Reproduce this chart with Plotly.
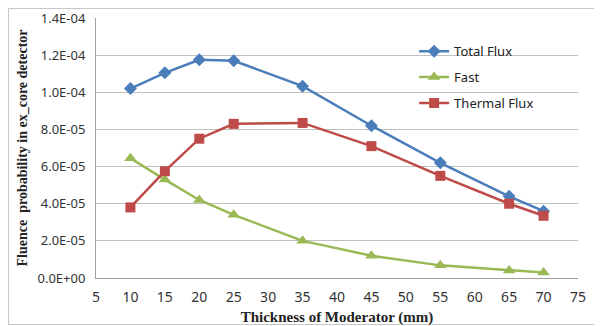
import plotly.graph_objects as go

thickness = [10, 15, 20, 25, 35, 45, 55, 65, 70]
total_flux = [1.02e-4, 1.105e-4, 1.175e-4, 1.17e-4, 1.033e-4, 8.2e-5, 6.2e-5, 4.4e-5, 3.6e-5]
fast = [6.45e-5, 5.3e-5, 4.2e-5, 3.4e-5, 2.0e-5, 1.2e-5, 6.8e-6, 4.0e-6, 3.0e-6]
thermal_flux = [3.8e-5, 5.75e-5, 7.5e-5, 8.3e-5, 8.35e-5, 7.1e-5, 5.5e-5, 4.0e-5, 3.35e-5]

y_tick_vals = [0, 2e-5, 4e-5, 6e-5, 8e-5, 1.0e-4, 1.2e-4, 1.4e-4]
y_tick_text = ["0.0E+00", "2.0E-05", "4.0E-05", "6.0E-05", "8.0E-05", "1.0E-04", "1.2E-04", "1.4E-04"]
x_tick_vals = [5, 10, 15, 20, 25, 30, 35, 40, 45, 50, 55, 60, 65, 70, 75]

fig = go.Figure()
fig.add_trace(go.Scatter(x=thickness, y=total_flux, name="Total Flux", mode="lines+markers",
                         legendgroup="a",
                         line=dict(color="#4A7EBB", width=2.5),
                         marker=dict(symbol="diamond", size=10, color="#4A7EBB")))
fig.add_trace(go.Scatter(x=thickness, y=fast, name="Fast", mode="lines+markers",
                         legendgroup="b",
                         line=dict(color="#98B954", width=2.5),
                         marker=dict(symbol="triangle-up", size=11, color="#98B954")))
fig.add_trace(go.Scatter(x=thickness, y=thermal_flux, name="Thermal Flux", mode="lines+markers",
                         legendgroup="c",
                         line=dict(color="#BE4B48", width=2.5),
                         marker=dict(symbol="square", size=10, color="#BE4B48")))

# page has an 8px body margin, so the figure is 594x318 and shifted by 8px
fig.update_layout(
    width=594, height=318,
    margin=dict(l=88, r=24, t=10, b=48),
    paper_bgcolor="white", plot_bgcolor="white",
    font=dict(family="Noto Sans, Arial, sans-serif", size=13, color="#333333"),
    legend=dict(x=0.66, y=0.93, xanchor="left", yanchor="top", bgcolor="rgba(0,0,0,0)",
                font=dict(size=13, color="#222222"), tracegroupgap=6, itemwidth=30),
    showlegend=True,
)
fig.update_xaxes(range=[5, 75], tickvals=x_tick_vals, showgrid=False, zeroline=False,
                 showline=True, linecolor="#A0A0A0", linewidth=1, ticks="",
                 automargin=False, ticklabelstandoff=6,
                 tickfont=dict(size=14, color="#333333"),
                 title=dict(text="Thickness of Moderator (mm)", standoff=6,
                            font=dict(family="Liberation Serif, Times New Roman, serif", size=15, color="#222222",
                                      weight="bold")))
fig.update_yaxes(range=[0, 1.4e-4], tickvals=y_tick_vals, ticktext=y_tick_text,
                 showgrid=True, gridcolor="#C0C0C0", gridwidth=1, zeroline=False,
                 showline=True, linecolor="#A0A0A0", linewidth=1, ticks="",
                 automargin=False, ticklabelstandoff=7,
                 tickfont=dict(size=13, color="#333333"),
                 title=dict(text="Fluence  probability in ex_core detector", standoff=6,
                            font=dict(family="Liberation Serif, Times New Roman, serif", size=14, color="#222222",
                                      weight="bold")))
fig.add_shape(type="rect", xref="paper", yref="paper", x0=-0.1815, x1=1.0446, y0=-0.1788, y1=1.0365,
              line=dict(color="#C8C8C8", width=1), fillcolor="rgba(0,0,0,0)", layer="below")

fig.write_html("out.html")
